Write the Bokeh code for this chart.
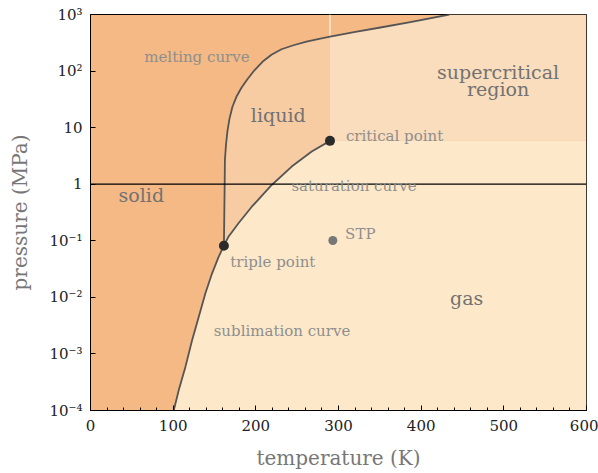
from bokeh.plotting import figure
from bokeh.models import FixedTicker, Span, Label
from bokeh.embed import file_html
from bokeh.resources import INLINE

# Phase diagram of xenon: temperature (K) vs pressure (MPa)
triple_T, triple_P = 161.4, 0.0817
crit_T, crit_P = 289.7, 5.84
stp_T, stp_P = 293.15, 0.101

# sublimation curve (solid-gas), from the bottom edge up to the triple point
sub_T = [100.7, 106.8, 114.8, 122.9, 130.9, 139.0, 147.1, 155.1, 161.4]
sub_P = [1e-4, 2.3e-4, 5.9e-4, 1.75e-3, 4.5e-3, 0.0118, 0.0266, 0.0524, 0.0817]

# saturation curve (liquid-gas), triple point to critical point
sat_T = [161.4, 166.9, 179.0, 195.1, 219.2, 243.4, 267.6, 289.7]
sat_P = [0.0817, 0.118, 0.204, 0.40, 0.97, 2.05, 3.78, 5.84]

# melting curve (solid-liquid), triple point up to 1000 MPa
melt_T = [161.4, 162.3, 162.6, 163.9, 165.7, 168.1, 171.7, 176.5, 182.6, 189.8,
          198.3, 208.0, 218.9, 231.0, 245.5, 261.2, 278.1, 289.7, 296.3, 320.4,
          350.7, 386.9, 434.1]
melt_P = [0.0817, 1.0, 2.69, 4.96, 8.78, 14.3, 23.4, 35.1, 50.6, 71.6,
          103.3, 146, 194, 243, 286, 330, 376, 406, 425, 492,
          589, 731, 1000]

x_ticks = [0, 100, 200, 300, 400, 500, 600]
x_minor = list(range(0, 601, 20))
y_ticks = [1e-4, 1e-3, 1e-2, 1e-1, 1.0, 10.0, 100.0, 1000.0]
y_tick_labels = ["10⁻⁴", "10⁻³", "10⁻²", "10⁻¹", "1", "10", "10²", "10³"]

T_MIN, T_MAX = 0, 600
P_MIN, P_MAX = 1e-4, 1e3

SERIF = "DejaVu Serif"
C_SOLID = "#F5B985"
C_LIQUID = "#F8CCA3"
C_SUPER = "#FADDBC"
C_GAS = "#FDE9C9"
C_CURVE = "#555555"

p = figure(width=598, height=473, x_range=(T_MIN, T_MAX), y_range=(P_MIN, P_MAX),
           y_axis_type="log", output_backend="svg", toolbar_location=None,
           min_border_left=90, min_border_right=12, min_border_top=14,
           min_border_bottom=63)
p.background_fill_color = C_SOLID
p.border_fill_color = "white"
p.grid.visible = False
p.outline_line_color = "black"
p.outline_line_width = 1

# split the melting curve at the critical temperature
i_c = melt_T.index(crit_T)
melt_lo_T, melt_lo_P = melt_T[:i_c + 1], melt_P[:i_c + 1]
melt_hi_T, melt_hi_P = melt_T[i_c:], melt_P[i_c:]

# gas region
gas_x = sub_T + sat_T[1:] + [T_MAX, T_MAX]
gas_y = sub_P + sat_P[1:] + [crit_P, P_MIN]
p.patch(gas_x, gas_y, fill_color=C_GAS, line_color=None)

# liquid region
liq_x = melt_lo_T + sat_T[::-1]
liq_y = melt_lo_P + sat_P[::-1]
p.patch(liq_x, liq_y, fill_color=C_LIQUID, line_color=None)

# supercritical region
sc_x = [crit_T] + melt_hi_T + [T_MAX, T_MAX]
sc_y = [crit_P] + melt_hi_P + [P_MAX, crit_P]
p.patch(sc_x, sc_y, fill_color=C_SUPER, line_color=None)

# faint seam at the critical temperature above the melting curve
p.segment(x0=[crit_T], y0=[melt_hi_P[0]], x1=[crit_T], y1=[P_MAX],
          line_color="#FBDDBE", line_width=2)

# phase boundaries
for xs, ys in ((sub_T, sub_P), (sat_T, sat_P), (melt_T, melt_P)):
    p.line(xs, ys, line_color=C_CURVE, line_width=1.8, line_join="round")

# 1 MPa reference line
p.add_layout(Span(location=1.0, dimension="width", line_color="black", line_width=1.2))

# special points
p.scatter([triple_T, crit_T], [triple_P, crit_P], size=10, fill_color="#2b2b2b",
          line_color=None)
p.scatter([stp_T], [stp_P], size=9, fill_color="#777777", line_color=None)

# region and curve annotations
def note(x, y, text, size="15px", color="#8e8e8e", align="left"):
    p.add_layout(Label(x=x, y=y, text=text, text_font=SERIF, text_font_size=size,
                       text_color=color, text_align=align, text_baseline="middle"))

BIG = "19px"
DARK = "#727272"
note(65, 178, "melting curve")
note(194, 16.8, "liquid", size=BIG, color=DARK)
note(493, 95, "supercritical", size=BIG, color=DARK, align="center")
note(493, 49, "region", size=BIG, color=DARK, align="center")
note(309, 7.2, "critical point")
note(243, 0.93, "saturation curve")
note(34, 0.65, "solid", size=BIG, color=DARK)
note(308, 0.132, "STP")
note(169, 0.042, "triple point")
note(149, 0.0025, "sublimation curve")
note(435, 0.0097, "gas", size=BIG, color=DARK)

# axes
xa = p.xaxis[0]
xa.ticker = FixedTicker(ticks=x_ticks, minor_ticks=x_minor)
ya = p.yaxis[0]
ya.ticker = FixedTicker(ticks=y_ticks, minor_ticks=[])
ya.major_label_overrides = {v: s for v, s in zip(y_ticks, y_tick_labels)}

for ax in (xa, ya):
    ax.axis_line_color = "black"
    ax.major_tick_line_color = "black"
    ax.major_tick_in = 5
    ax.major_tick_out = 0
    ax.minor_tick_in = 3
    ax.minor_tick_out = 0
    ax.major_label_text_font = SERIF
    ax.major_label_text_font_size = "15px"
    ax.major_label_text_color = "#222222"
    ax.axis_label_text_font = SERIF
    ax.axis_label_text_font_size = "20px"
    ax.axis_label_text_font_style = "normal"
    ax.axis_label_text_color = "#777777"
ya.minor_tick_line_color = None
xa.minor_tick_line_color = "black"
xa.major_label_standoff = 9
ya.major_label_standoff = 8
xa.axis_label = "temperature (K)"
ya.axis_label = "pressure (MPa)"
xa.axis_label_standoff = 12
ya.axis_label_standoff = 14

open("out.html", "w").write(file_html(p, INLINE))
